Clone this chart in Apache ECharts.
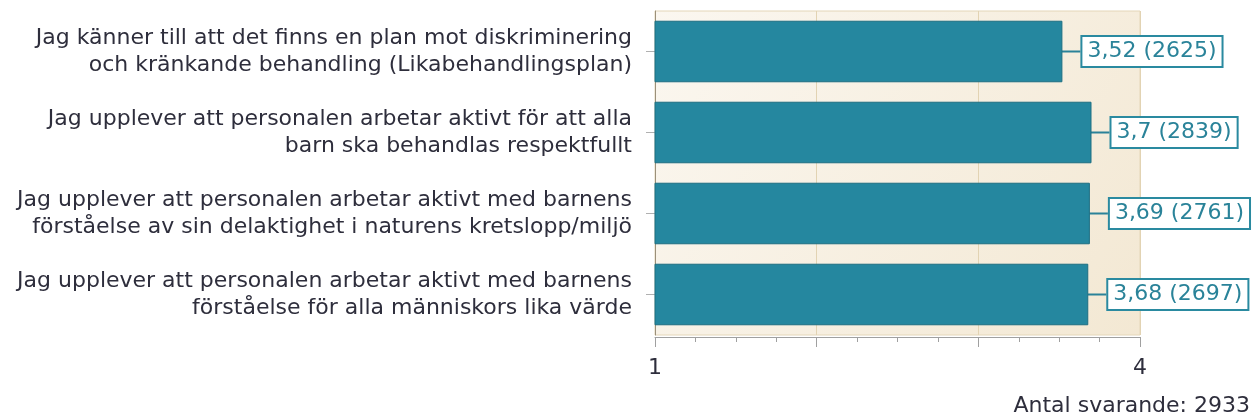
<!DOCTYPE html>
<html>
<head>
<meta charset="utf-8">
<script src="https://cdn.jsdelivr.net/npm/echarts@6/dist/echarts.min.js"></script>
<style>
  html, body { margin: 0; padding: 0; background: #fff; }
  #chart01 { width: 1253px; height: 420px; }
</style>
</head>
<body>
<div id="chart01"></div>
<script>
// data
var categories = [
    'Jag känner till att det finns en plan mot diskriminering\noch kränkande behandling (Likabehandlingsplan)',
    'Jag upplever att personalen arbetar aktivt för att alla\nbarn ska behandlas respektfullt',
    'Jag upplever att personalen arbetar aktivt med barnens\nförståelse av sin delaktighet i naturens kretslopp/miljö',
    'Jag upplever att personalen arbetar aktivt med barnens\nförståelse för alla människors lika värde'
];
var means = [3.52, 3.7, 3.69, 3.68];
var counts = [2625, 2839, 2761, 2697];
var totalAnswers = 2933;
var xTickLabels = [1, 4];

var chart01 = echarts.init(document.getElementById('chart01'));
var font = 'DejaVu Sans';

var option = {
    animation: false,
    textStyle: { fontFamily: font },
    grid: {
        left: 655,
        right: 113,
        top: 11,
        bottom: 85,
        show: true,
        borderColor: '#e4d6b8',
        borderWidth: 1,
        backgroundColor: {
            type: 'linear', x: 0, y: 0, x2: 1, y2: 1,
            colorStops: [
                { offset: 0, color: '#fbf7f0' },
                { offset: 1, color: '#f3e8d3' }
            ]
        }
    },
    xAxis: {
        type: 'value',
        min: 1,
        max: 4,
        interval: 1,
        offset: 2,
        axisLine: { show: true, lineStyle: { color: '#a0a0a0', width: 1 } },
        axisTick: { show: true, length: 10, lineStyle: { color: '#a0a0a0' } },
        minorTick: { show: true, splitNumber: 4, length: 5, lineStyle: { color: '#a0a0a0' } },
        splitLine: { show: true, lineStyle: { color: '#e2d3b3', width: 1 } },
        axisLabel: {
            fontSize: 22,
            color: '#2e2e3c',
            margin: 20,
            formatter: function (v) {
                return xTickLabels.indexOf(v) >= 0 ? String(v) : '';
            }
        }
    },
    yAxis: {
        type: 'category',
        inverse: true,
        data: categories,
        axisLine: { show: true, lineStyle: { color: '#9b907a', width: 1 } },
        axisTick: { show: true, alignWithLabel: true, length: 9, lineStyle: { color: '#b0b0b0' } },
        axisLabel: {
            fontSize: 22,
            lineHeight: 27,
            color: '#2e2e3c',
            margin: 23,
            align: 'right'
        }
    },
    series: [
        {
            type: 'bar',
            data: means,
            barCategoryGap: '24%',
            itemStyle: { color: '#25879f', borderColor: '#1d6e82', borderWidth: 1 },
            label: {
                show: true,
                position: 'right',
                distance: 0,
                fontSize: 22,
                lineHeight: 26,
                color: '#2a8399',
                backgroundColor: '#fff',
                borderColor: '#2a8aa0',
                borderWidth: 2,
                padding: [2, 5, 1, 5],
                formatter: function (p) {
                    return String(p.value).replace('.', ',') + ' (' + counts[p.dataIndex] + ')';
                }
            },
            labelLayout: { dx: 20 },
            labelLine: { show: true, lineStyle: { color: '#2a8299', width: 2 } }
        }
    ],
    graphic: [
        {
            type: 'text',
            right: 3,
            top: 395,
            style: {
                text: 'Antal svarande: ' + totalAnswers,
                font: '22px "DejaVu Sans"',
                fill: '#2e2e3c'
            }
        }
    ]
};
chart01.setOption(option);
window.onresize = function () {
    chart01.resize();
};
</script>
</body>
</html>
